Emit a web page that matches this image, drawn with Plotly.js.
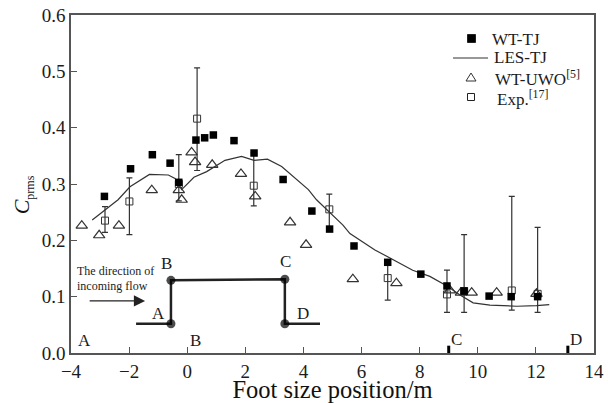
<!DOCTYPE html>
<html><head><meta charset="utf-8">
<script src="https://cdn.plot.ly/plotly-3.0.1.min.js"></script>
<style>html,body{margin:0;padding:0;background:#fff}</style></head>
<body><div id="chart" style="width:608px;height:403px"></div>
<script>
const wtTjX=[-2.85,-1.95,-1.2,-0.59,-0.29,0.30,0.6,0.9,1.61,2.3,3.3,4.29,4.9,5.74,6.9,8.04,8.94,9.53,10.39,11.15,12.06];
const wtTjY=[.278,.327,.352,.337,.303,.378,.382,.387,.377,.355,.308,.252,.22,.19,.161,.14,.119,.11,.101,.10,.10];
const lesX=[-3.27,-2.38,-1.97,-1.3,-.65,-.42,-.19,.23,.67,1.3,1.87,2.3,2.76,3.25,4.17,4.45,5.36,5.6,6.46,7.1,7.76,8.35,8.94,9.39,9.84,10.42,11.34,12.02,12.46];
const lesY=[.236,.272,.295,.317,.316,.31,.29,.312,.322,.342,.349,.342,.344,.331,.29,.272,.227,.212,.183,.165,.147,.136,.119,.103,.089,.085,.083,.084,.086];
const uwoX=[-3.63,-3.03,-2.35,-1.22,-0.29,-0.19,0.15,0.27,0.86,1.85,2.34,3.54,4.09,5.7,7.2,9.04,9.42,9.79,10.65,12.02];
const uwoY=[.226,.209,.226,.289,.289,.272,.356,.339,.334,.318,.278,.232,.192,.131,.124,.111,.107,.107,.107,.105];
const expX=[-2.83,-1.99,-0.29,0.34,2.29,4.89,6.9,8.94,9.53,11.17,12.06];
const expY=[.235,.269,.30,.416,.297,.255,.133,.104,.11,.111,.105];
const expUp=[.025,.042,.052,.09,.058,.027,.028,.043,.10,.167,.118];
const expDown=[.021,.059,.03,.092,.036,.035,.039,.032,.038,.035,.033];
const insetX=[-1.76,-0.56,-0.56,3.36,3.36,4.57];
const insetY=[.052,.052,.129,.131,.052,.052];
const insetDot=[0,9,9,9,9,0];
const spanTickX=[9,13.1];
const serif='"Liberation Serif","Times New Roman",serif';
const ink='#1c1c1c', frame='#555555';

const traces=[
 {name:'LES-TJ',x:lesX,y:lesY,type:'scatter',mode:'lines',line:{color:'#333',width:1.2}},
 {name:'WT-UWO',x:uwoX,y:uwoY,type:'scatter',mode:'markers',marker:{symbol:'triangle-up-open',size:10,color:'#333',line:{width:1.2}}},
 {name:'Exp.',x:expX,y:expY,type:'scatter',mode:'markers',marker:{symbol:'square-open',size:7,color:'#333',line:{width:1}},
  error_y:{type:'data',symmetric:false,array:expUp,arrayminus:expDown,color:'#333',thickness:1.2,width:3}},
 {name:'WT-TJ',x:wtTjX,y:wtTjY,type:'scatter',mode:'markers',marker:{symbol:'square',size:7.5,color:'#000'}},
 {name:'profile',x:insetX,y:insetY,type:'scatter',mode:'lines+markers',hoverinfo:'skip',
  line:{color:'#222',width:2.5},marker:{color:'#000',size:insetDot,line:{width:0}}}
];
function lab(x,y,text,size,anchor){return {x,y,xref:'x',yref:'y',text,showarrow:false,xanchor:anchor||'center',font:{family:serif,size:size||17,color:ink}};}
// hand-placed key, positioned in figure pixels like the original (paper coords span the plot area)
const px=v=>(v-71)/523, py=v=>(353-v)/338;
function keyText(xp,yp,text){return {x:px(xp),y:py(yp),xref:'paper',yref:'paper',xanchor:'left',yanchor:'middle',showarrow:false,text,font:{family:serif,size:17,color:ink}};}
function keyRect(cx,cy,s,fill){return {type:'rect',xref:'paper',yref:'paper',x0:px(cx-s),x1:px(cx+s),y0:py(cy-s),y1:py(cy+s),fillcolor:fill,line:{color:'#222',width:1}};}
const layout={
 width:608,height:403,margin:{l:71,r:14,t:15,b:50},paper_bgcolor:'#fff',plot_bgcolor:'#fff',showlegend:false,
 font:{family:serif,color:ink},
 xaxis:{range:[-4,14],tickvals:[-4,-2,0,2,4,6,8,10,12,14],ticktext:['−4','−2','0','2','4','6','8','10','12','14'],
  ticks:'inside',ticklen:6,tickwidth:1.2,tickcolor:frame,showline:true,linecolor:frame,linewidth:1.5,mirror:true,showgrid:false,zeroline:false,
  tickfont:{family:serif,size:19,color:ink},title:{text:'Foot size position/m',font:{family:serif,size:24.5,color:'#111'},standoff:0}},
 yaxis:{range:[0,0.6],tickvals:[0,.1,.2,.3,.4,.5,.6],ticktext:['0.0','0.1','0.2','0.3','0.4','0.5','0.6'],
  ticks:'inside',ticklen:6,tickwidth:1.2,tickcolor:frame,showline:true,linecolor:frame,linewidth:1.5,mirror:true,showgrid:false,zeroline:false,
  tickfont:{family:serif,size:19,color:ink},
  title:{text:'<i>C</i><sub><span style="font-size:12px">prms</span></sub>&nbsp;&nbsp;&nbsp;&nbsp;',font:{family:serif,size:22,color:'#111'},standoff:6}},
 shapes:[
  ...spanTickX.map(v=>({type:'line',xref:'x',yref:'y',x0:v,x1:v,y0:0,y1:0.013,line:{color:'#000',width:3}})),
  keyRect(471.5,38.5,4,'#000'),
  {type:'line',xref:'paper',yref:'paper',x0:px(453),x1:px(488),y0:py(58),y1:py(58),line:{color:'#333',width:1.2}},
  {type:'path',xref:'paper',yref:'paper',path:`M ${px(466)} ${py(81)} L ${px(476)} ${py(81)} L ${px(471)} ${py(73)} Z`,line:{color:'#333',width:1}},
  keyRect(471,97,3.5,'rgba(0,0,0,0)')
 ],
 annotations:[
  keyText(490,39,'WT-TJ'),keyText(492,58,'LES-TJ'),keyText(493,78,'WT-UWO<sup>[5]</sup>'),keyText(495,98,'Exp.<sup>[17]</sup>'),
  lab(-3.55,.022,'A'),lab(0.3,.022,'B'),lab(9.27,.024,'C'),lab(13.37,.024,'D'),
  lab(-0.7,.159,'B'),lab(3.37,.162,'C'),lab(-1.0,.071,'A'),lab(4.0,.071,'D'),
  lab(-3.85,.146,'The direction of',12,'left'),lab(-3.85,.119,'incoming flow',12,'left'),
  {x:-1.45,y:.0925,ax:-3.41,ay:.0925,xref:'x',yref:'y',axref:'x',ayref:'y',text:'',showarrow:true,arrowhead:2,arrowsize:1.6,arrowwidth:1.4,arrowcolor:'#222'}
 ]
};
Plotly.newPlot('chart',traces,layout,{displayModeBar:false,responsive:false});
</script></body></html>
